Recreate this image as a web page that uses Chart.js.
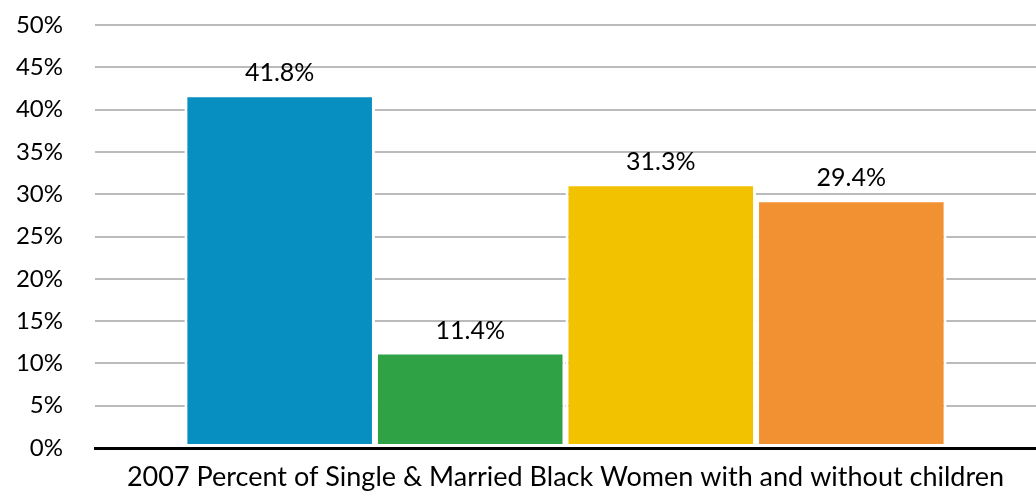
<!DOCTYPE html>
<html>
<head>
<meta charset="utf-8">
<script src="https://cdn.jsdelivr.net/npm/chart.js@4"></script>
<style>
  html, body { margin: 0; padding: 0; background: #fff; }
  #wrap { width: 1036px; height: 496px; }
</style>
</head>
<body>
<div id="wrap"><canvas id="grafico"></canvas></div>
<script>
const categorias = ['2007 Percent of Single & Married Black Women with and without children'];
const series = ['Series 1', 'Series 2', 'Series 3', 'Series 4'];
const valores = [41.8, 11.4, 31.3, 29.4];
const cores = ['#088fc2', '#30a246', '#f2c200', '#f29132'];
const ticksY = [0, 5, 10, 15, 20, 25, 30, 35, 40, 45, 50];

const fonte = "Lato, 'Open Sans', sans-serif";

// rotulos em cima das barras
const rotulos = {
    id: 'rotulos',
    afterDatasetsDraw(chart) {
        const ctx = chart.ctx;
        ctx.save();
        ctx.font = '25px ' + fonte;
        ctx.fillStyle = '#000';
        ctx.textAlign = 'center';
        ctx.textBaseline = 'alphabetic';
        chart.data.datasets.forEach((ds, i) => {
            const bar = chart.getDatasetMeta(i).data[0];
            ctx.fillText(ds.data[0].toFixed(1) + '%', bar.x, bar.y - 13);
        });
        ctx.restore();
    }
};

const ctx = document.getElementById('grafico').getContext('2d');
const grafico = new Chart(ctx, {
    type: 'bar',
    data: {
        labels: categorias,
        datasets: series.map((nome, i) => ({
            label: nome,
            data: [valores[i]],
            backgroundColor: cores[i],
            borderColor: '#ffffff',
            borderWidth: 3,
            borderSkipped: false,
            categoryPercentage: 0.81,
            barPercentage: 1
        }))
    },
    plugins: [rotulos],
    options: {
        responsive: true,
        maintainAspectRatio: false,
        animation: false,
        layout: { padding: { left: 10, right: 0, top: 25, bottom: 0 } },
        plugins: {
            legend: { display: false },
            tooltip: { enabled: false }
        },
        scales: {
            x: {
                grid: { display: false },
                border: { display: true, color: '#000', width: 3, z: 1 },
                afterFit: (axis) => { axis.height = 48; },
                ticks: {
                    color: '#000',
                    font: { family: fonte, size: 27 },
                    padding: 5,
                    maxRotation: 0,
                    minRotation: 0
                }
            },
            y: {
                min: 0,
                max: 50,
                afterBuildTicks: (axis) => { axis.ticks = ticksY.map(v => ({ value: v })); },
                afterFit: (axis) => { axis.width = 85; axis.paddingTop = 0; axis.paddingBottom = 0; },
                grid: { color: '#bbbbbb', lineWidth: 2, drawTicks: false },
                border: { display: false },
                ticks: {
                    color: '#000',
                    font: { family: fonte, size: 24 },
                    padding: 32,
                    callback: (v) => v + '%'
                }
            }
        }
    }
});
</script>
</body>
</html>
